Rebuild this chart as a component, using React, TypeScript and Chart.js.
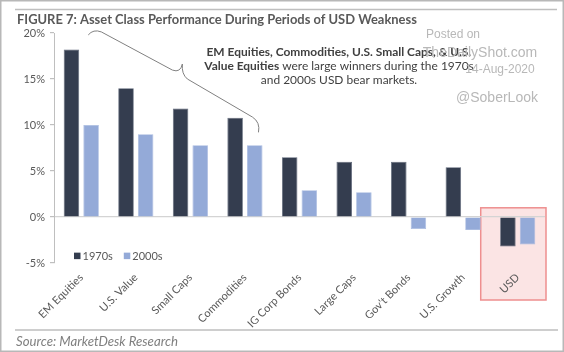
import React, { useEffect, useRef } from "react";
import { Chart, registerables } from "chart.js";

Chart.register(...registerables);

const categories = [
  "EM Equities",
  "U.S. Value",
  "Small Caps",
  "Commodities",
  "IG Corp Bonds",
  "Large Caps",
  "Gov't Bonds",
  "U.S. Growth",
  "USD",
];
const series1970s = [18.2, 14.0, 11.8, 10.8, 6.5, 6.0, 6.0, 5.4, -3.2];
const series2000s = [10.0, 9.0, 7.8, 7.8, 2.9, 2.7, -1.3, -1.4, -3.0];
const seriesLabels = ["1970s", "2000s"];
const seriesColors = ["#343d4f", "#94aad8"];
const yMin = -5;
const yMax = 20;
const yStep = 5;
const titleText = "FIGURE 7: Asset Class Performance During Periods of USD Weakness";
const sourceText = "Source: MarketDesk Research";
const noteLine1Bold = "EM Equities, Commodities, U.S. Small Caps, & U.S.";
const noteLine2Bold = "Value Equities";
const noteLine2Rest = " were large winners during the 1970s";
const noteLine3 = "and 2000s USD bear markets.";
const watermark = ["Posted on", "TheDailyShot.com", "14-Aug-2020", "@SoberLook"];

const FONT = "Lato";
const GRAY = "#595959";

// brace path in (category index, value) space
const bracePts = {
  a: [0.128, 19.79],
  c1: [0.22, 20.45],
  b: [0.367, 20.12],
  d: [1.67, 15.97],
  c2: [1.817, 15.64],
  tip: [1.853, 16.63],
  c3: [1.835, 15.54],
  e: [1.945, 15.0],
  f: [3.138, 10.86],
  c4: [3.284, 10.3],
  g: [3.248, 9.2],
};

const deco = {
  id: "deco",
  beforeDraw(chart: any) {
    const { ctx, chartArea, scales } = chart;
    const x = scales.x;
    const y = scales.y;
    const cx = x.getPixelForValue(8);
    const left = cx - 37;
    const right = chartArea.right + 1;
    const top = y.getPixelForValue(1);
    const bottom = chartArea.bottom + 37;
    ctx.save();
    ctx.fillStyle = "#fbe4e4";
    ctx.fillRect(left, top, right - left, bottom - top);
    ctx.strokeStyle = "#ee8f8f";
    ctx.lineWidth = 1.5;
    ctx.strokeRect(left, top, right - left, bottom - top);
    ctx.restore();
  },
  afterDraw(chart: any) {
    const { ctx, chartArea, scales } = chart;
    const x = scales.x;
    const y = scales.y;
    const W = chart.width;
    const H = chart.height;
    ctx.save();
    // outer border
    ctx.strokeStyle = "#b8b8b8";
    ctx.lineWidth = 1.5;
    ctx.strokeRect(0.75, 0.75, W - 1.5, H - 1.5);
    // top & bottom rules
    ctx.strokeStyle = "#bfbfbf";
    ctx.lineWidth = 1.5;
    ctx.beginPath();
    ctx.moveTo(15, 9.5);
    ctx.lineTo(557, 9.5);
    ctx.moveTo(15, 330);
    ctx.lineTo(558, 330);
    ctx.stroke();

    // title
    ctx.fillStyle = GRAY;
    ctx.textBaseline = "middle";
    ctx.textAlign = "left";
    ctx.font = `bold 13px ${FONT}`;
    const tw = ctx.measureText(titleText).width;
    const ts = 13 * (400 / tw);
    ctx.font = `bold ${ts.toFixed(2)}px ${FONT}`;
    ctx.fillText(titleText, 17, 20);

    // source
    ctx.fillStyle = "#7f7f7f";
    ctx.font = `italic 12px ${FONT}`;
    const sw = ctx.measureText(sourceText).width;
    ctx.font = `italic ${(12 * (162 / sw)).toFixed(2)}px ${FONT}`;
    ctx.fillText(sourceText, 16, 342);

    // annotation
    ctx.fillStyle = "#404040";
    ctx.font = `bold 12px ${FONT}`;
    const l1w = ctx.measureText(noteLine1Bold).width;
    const ns = 12 * (265 / l1w);
    const boldF = `bold ${ns.toFixed(2)}px ${FONT}`;
    const normF = `${ns.toFixed(2)}px ${FONT}`;
    const ncx = 339;
    ctx.textAlign = "left";
    ctx.font = boldF;
    ctx.fillText(noteLine1Bold, ncx - l1w * (ns / 12) / 2, 52);
    const w2a = ctx.measureText(noteLine2Bold).width;
    ctx.font = normF;
    const w2b = ctx.measureText(noteLine2Rest).width;
    const x2 = ncx - (w2a + w2b) / 2;
    ctx.font = boldF;
    ctx.fillText(noteLine2Bold, x2, 66);
    ctx.font = normF;
    ctx.fillText(noteLine2Rest, x2 + w2a, 66);
    ctx.textAlign = "center";
    ctx.fillText(noteLine3, ncx, 80);

    // watermark
    ctx.fillStyle = "#b8b8b8";
    ctx.textAlign = "center";
    ctx.font = `12px "Liberation Sans"`;
    ctx.fillText(watermark[0], 453, 35);
    ctx.font = `14px "Liberation Sans"`;
    ctx.fillText(watermark[1], 480, 53);
    ctx.font = `12px "Liberation Sans"`;
    ctx.fillText(watermark[2], 500, 70);
    ctx.font = `14px "Liberation Sans"`;
    ctx.fillText(watermark[3], 497, 98);

    // brace
    const P = (p: number[]) => [x.getPixelForValue(p[0]), y.getPixelForValue(p[1])];
    const b = bracePts;
    ctx.strokeStyle = "#808080";
    ctx.lineWidth = 1;
    ctx.beginPath();
    let p = P(b.a);
    ctx.moveTo(p[0], p[1]);
    let c = P(b.c1);
    p = P(b.b);
    ctx.quadraticCurveTo(c[0], c[1], p[0], p[1]);
    p = P(b.d);
    ctx.lineTo(p[0], p[1]);
    c = P(b.c2);
    p = P(b.tip);
    ctx.quadraticCurveTo(c[0], c[1], p[0], p[1]);
    c = P(b.c3);
    p = P(b.e);
    ctx.quadraticCurveTo(c[0], c[1], p[0], p[1]);
    p = P(b.f);
    ctx.lineTo(p[0], p[1]);
    c = P(b.c4);
    p = P(b.g);
    ctx.quadraticCurveTo(c[0], c[1], p[0], p[1]);
    ctx.stroke();

    // legend
    ctx.font = `11px ${FONT}`;
    ctx.textAlign = "left";
    ctx.textBaseline = "middle";
    const ly = y.getPixelForValue(-4.2);
    let lx = chartArea.left + 20;
    seriesLabels.forEach((lab, i) => {
      ctx.fillStyle = seriesColors[i];
      ctx.fillRect(lx, ly - 3, 6.5, 6.5);
      ctx.fillStyle = GRAY;
      ctx.fillText(lab, lx + 8.5, ly + 0.5);
      lx += 8.5 + ctx.measureText(lab).width + 11;
    });
    ctx.restore();
  },
};

export default function App() {
  const ref = useRef<HTMLCanvasElement | null>(null);
  useEffect(() => {
    if (!ref.current) return;
    const chart = new Chart(ref.current, {
      type: "bar",
      data: {
        labels: categories,
        datasets: [
          {
            label: seriesLabels[0],
            data: series1970s,
            backgroundColor: seriesColors[0],
            borderColor: "#5d6677",
            borderWidth: 0.8,
          },
          {
            label: seriesLabels[1],
            data: series2000s,
            backgroundColor: seriesColors[1],
            borderColor: "#a9bbe0",
            borderWidth: 0.8,
          },
        ],
      },
      options: {
        responsive: false,
        animation: false,
        devicePixelRatio: 1,
        categoryPercentage: 0.72,
        barPercentage: 0.79,
        layout: { padding: { left: 0, right: 19, top: 33, bottom: 0 } },
        plugins: {
          legend: { display: false },
          tooltip: { enabled: false },
          title: { display: false },
        },
        scales: {
          x: {
            grid: { display: false, drawTicks: false },
            border: { display: false },
            ticks: {
              autoSkip: false,
              minRotation: 45,
              maxRotation: 45,
              padding: 8,
              color: GRAY,
              font: { family: FONT, size: 11 },
            },
            afterFit: (s: any) => {
              s.height = 89;
            },
          },
          y: {
            min: yMin,
            max: yMax,
            ticks: {
              stepSize: yStep,
              padding: 5,
              color: GRAY,
              font: { family: FONT, size: 11 },
              callback: (v: any) => `${v}%`,
            },
            border: { display: true, color: "#bfbfbf", width: 1 },
            grid: {
              drawTicks: true,
              tickLength: 4,
              tickColor: "#bfbfbf",
              color: (ctx: any) => (ctx.tick && ctx.tick.value === 0 ? "#d4d4d4" : "rgba(0,0,0,0)"),
              lineWidth: 1.2,
            },
            afterFit: (s: any) => {
              s.width = 54;
            },
          },
        },
      },
      plugins: [deco],
    } as any);
    return () => chart.destroy();
  }, []);
  return (
    <div style={{ position: "fixed", left: 0, top: 0, width: 564, height: 352, background: "#fff" }}>
      <canvas ref={ref} width={564} height={352} style={{ width: 564, height: 352, display: "block" }} />
    </div>
  );
}
